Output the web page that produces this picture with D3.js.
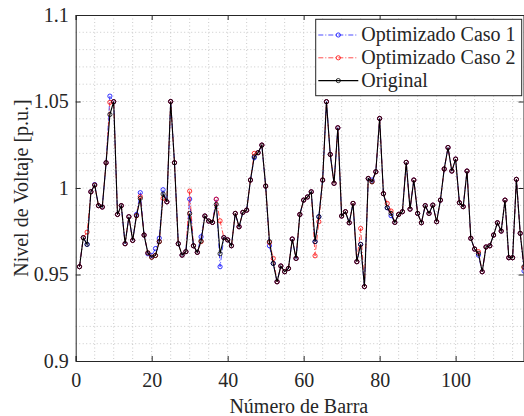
<!DOCTYPE html>
<html>
<head>
<meta charset="utf-8">
<script src="https://cdn.jsdelivr.net/npm/d3@7"></script>
<style>
  html, body { margin: 0; padding: 0; background: #fff; }
  svg { display: block; }
  text { font-family: "Liberation Serif", "Times New Roman", serif; fill: #262626; }
</style>
</head>
<body>
<script>
// ---------------- data ----------------
const seriesNames = ["Optimizado Caso 1", "Optimizado Caso 2", "Original"];
const xTicks = [0, 20, 40, 60, 80, 100];
const yTicks = [0.9, 0.95, 1, 1.05, 1.1];
const yTickLabels = ["0.9", "0.95", "1", "1.05", "1.1"];

// Original voltage per bus (1..118)
const original = [
  0.9545, 0.9713, 0.9674, 0.9978, 1.0017, 0.9898, 0.9890, 1.0146, 1.0425, 1.0499,
  0.9847, 0.9898, 0.9678, 0.9834, 0.9697, 0.9840, 0.9940, 0.9728, 0.9625, 0.9600,
  0.9610, 0.9690, 0.9965, 0.9920, 1.0500, 1.0146, 0.9678, 0.9612, 0.9632, 0.9853,
  0.9666, 0.9628, 0.9693, 0.9838, 0.9809, 0.9801, 0.9905, 0.9620, 0.9713, 0.9700,
  0.9666, 0.9853, 0.9776, 0.9859, 0.9872, 1.0046, 1.0181, 1.0204, 1.0248, 1.0011,
  0.9690, 0.9564, 0.9458, 0.9549, 0.9516, 0.9535, 0.9705, 0.9593, 0.9847, 0.9930,
  0.9948, 0.9978, 0.9690, 0.9834, 1.0046, 1.0499, 1.0194, 1.0027, 1.0348, 0.9838,
  0.9863, 0.9799, 0.9911, 0.9574, 0.9674, 0.9430, 1.0055, 1.0036, 1.0094, 1.0402,
  0.9967, 0.9886, 0.9853, 0.9801, 0.9847, 0.9863, 1.0148, 0.9878, 1.0046, 0.9853,
  0.9799, 0.9898, 0.9853, 0.9901, 0.9805, 0.9930, 1.0110, 1.0234, 1.0098, 1.0167,
  0.9915, 0.9892, 1.0098, 0.9709, 0.9647, 0.9622, 0.9516, 0.9659, 0.9666, 0.9728,
  0.9799, 0.9751, 0.9930, 0.9597, 0.9597, 1.0050, 0.9738, 0.9545
];

// Optimized case 1 (blue)
const caso1 = [
  0.9545, 0.9713, 0.9674, 0.9978, 1.0020, 0.9898, 0.9890, 1.0146, 1.0531, 1.0499,
  0.9847, 0.9898, 0.9678, 0.9834, 0.9697, 0.9847, 0.9973, 0.9728, 0.9620, 0.9610,
  0.9650, 0.9710, 0.9990, 0.9920, 1.0500, 1.0146, 0.9678, 0.9612, 0.9632, 0.9936,
  0.9666, 0.9628, 0.9718, 0.9838, 0.9809, 0.9801, 0.9935, 0.9545, 0.9713, 0.9700,
  0.9666, 0.9853, 0.9776, 0.9859, 0.9872, 1.0046, 1.0175, 1.0204, 1.0248, 1.0011,
  0.9666, 0.9564, 0.9458, 0.9549, 0.9516, 0.9535, 0.9705, 0.9593, 0.9847, 0.9930,
  0.9948, 0.9978, 0.9690, 0.9834, 1.0046, 1.0499, 1.0194, 1.0027, 1.0348, 0.9838,
  0.9863, 0.9799, 0.9911, 0.9574, 0.9674, 0.9430, 1.0055, 1.0046, 1.0094, 1.0402,
  0.9967, 0.9886, 0.9840, 0.9801, 0.9847, 0.9863, 1.0148, 0.9878, 1.0046, 0.9853,
  0.9799, 0.9898, 0.9853, 0.9901, 0.9805, 0.9930, 1.0110, 1.0234, 1.0098, 1.0167,
  0.9915, 0.9892, 1.0098, 0.9709, 0.9647, 0.9612, 0.9516, 0.9659, 0.9666, 0.9728,
  0.9799, 0.9751, 0.9930, 0.9597, 0.9597, 1.0050, 0.9738, 0.9520
];

// Optimized case 2 (red)
const caso2 = [
  0.9545, 0.9713, 0.9745, 0.9978, 1.0017, 0.9898, 0.9890, 1.0146, 1.0495, 1.0499,
  0.9847, 0.9898, 0.9678, 0.9834, 0.9697, 0.9840, 0.9950, 0.9728, 0.9625, 0.9600,
  0.9610, 0.9690, 0.9940, 0.9920, 1.0500, 1.0146, 0.9678, 0.9612, 0.9632, 0.9982,
  0.9666, 0.9628, 0.9690, 0.9838, 0.9809, 0.9801, 0.9935, 0.9810, 0.9713, 0.9700,
  0.9666, 0.9853, 0.9776, 0.9859, 0.9872, 1.0046, 1.0200, 1.0204, 1.0248, 1.0011,
  0.9685, 0.9593, 0.9458, 0.9549, 0.9516, 0.9535, 0.9705, 0.9593, 0.9847, 0.9930,
  0.9948, 0.9978, 0.9608, 0.9805, 1.0046, 1.0499, 1.0194, 1.0027, 1.0348, 0.9838,
  0.9863, 0.9799, 0.9911, 0.9574, 0.9766, 0.9430, 1.0055, 1.0036, 1.0094, 1.0402,
  0.9967, 0.9911, 0.9867, 0.9801, 0.9847, 0.9863, 1.0148, 0.9878, 1.0046, 0.9853,
  0.9799, 0.9898, 0.9853, 0.9901, 0.9805, 0.9930, 1.0110, 1.0234, 1.0098, 1.0167,
  0.9915, 0.9892, 1.0098, 0.9709, 0.9647, 0.9632, 0.9516, 0.9659, 0.9666, 0.9728,
  0.9799, 0.9751, 0.9930, 0.9597, 0.9597, 1.0050, 0.9738, 0.9540
];

// ---------------- layout ----------------
const W = 524, H = 416;
const plot = { left: 75.7, right: 524, top: 15, bottom: 361 };
const axisColor = "#262626";

const svg = d3.select("body").append("svg").attr("width", W).attr("height", H);

const x = d3.scaleLinear().domain([0, 118]).range([plot.left, plot.right]);
const y = d3.scaleLinear().domain([0.9, 1.1]).range([plot.bottom, plot.top]);

// grid (dotted) every 5 buses and every 0.01 p.u.
const gridX = d3.range(5, 118, 5);
const gridY = d3.range(1, 20).map(i => 0.9 + i * 0.01);
const grid = svg.append("g");
grid.selectAll("line.gx").data(gridX).join("line")
  .attr("x1", d => x(d)).attr("x2", d => x(d))
  .attr("y1", plot.top).attr("y2", plot.bottom)
  .attr("stroke", "#bdbdbd").attr("stroke-width", 0.8).attr("stroke-dasharray", "1,2.5");
grid.selectAll("line.gy").data(gridY).join("line")
  .attr("y1", d => y(d)).attr("y2", d => y(d))
  .attr("x1", plot.left).attr("x2", plot.right)
  .attr("stroke", "#bdbdbd").attr("stroke-width", 0.8).attr("stroke-dasharray", "1,2.5");

// series
const buses = d3.range(1, 119);
const series = [
  { name: seriesNames[0], values: caso1, color: "#0000ff", dash: "5,2,1,2", width: 0.7 },
  { name: seriesNames[1], values: caso2, color: "#ff0000", dash: "5,2,1,2", width: 0.7 },
  { name: seriesNames[2], values: original, color: "#000000", dash: null, width: 1.1 }
];
const line = d3.line().x(d => x(d[0])).y(d => y(d[1]));

const sg = svg.append("g");
series.forEach(s => {
  const pts = buses.map((b, i) => [b, s.values[i]]);
  sg.append("path").datum(pts)
    .attr("d", line).attr("fill", "none")
    .attr("stroke", s.color).attr("stroke-width", s.width)
    .attr("stroke-dasharray", s.dash);
  sg.selectAll(null).data(pts).join("circle")
    .attr("cx", d => x(d[0])).attr("cy", d => y(d[1])).attr("r", 2.1)
    .attr("fill", "none").attr("stroke", s.color).attr("stroke-width", 0.8);
});

// axes box with inward ticks
const ax = svg.append("g");
const xAxisB = d3.axisBottom(x).tickValues(xTicks).tickSize(-5).tickPadding(12).tickFormat(d3.format("d"));
const xAxisT = d3.axisTop(x).tickValues(xTicks).tickSize(-5).tickFormat("");
const yAxisL = d3.axisLeft(y).tickValues(yTicks).tickSize(-5).tickPadding(7).tickFormat((d, i) => yTickLabels[i]);
const yAxisR = d3.axisRight(y).tickValues(yTicks).tickSize(-5).tickFormat("");

function style(g) {
  g.select(".domain").attr("stroke", axisColor).attr("stroke-width", 1);
  g.selectAll(".tick line").attr("stroke", axisColor);
  g.selectAll(".tick text").attr("font-size", 20).attr("fill", axisColor)
    .attr("font-family", "Liberation Serif, Times New Roman, serif");
}
ax.append("g").attr("transform", `translate(0,${plot.bottom})`).call(xAxisB).call(style);
ax.append("g").attr("transform", `translate(0,${plot.top})`).call(xAxisT).call(style);
ax.append("g").attr("transform", `translate(${plot.left},0)`).call(yAxisL).call(style);
ax.append("g").attr("transform", `translate(${plot.right - 0.5},0)`).call(yAxisR).call(style);

// axis titles
svg.append("text").attr("x", (plot.left + plot.right) / 2 - 1).attr("y", 413)
  .attr("text-anchor", "middle").attr("font-size", 20).text("Número de Barra");
svg.append("text").attr("transform", `translate(27.5,${(plot.top + plot.bottom) / 2}) rotate(-90)`)
  .attr("text-anchor", "middle").attr("font-size", 20).text("Nivel de Voltaje [p.u.]");

// legend
const lg = svg.append("g").attr("transform", "translate(315.7,19.3)");
lg.append("rect").attr("x", 0).attr("y", 0).attr("width", 206).attr("height", 76.4)
  .attr("fill", "#fff").attr("stroke", axisColor).attr("stroke-width", 1);
series.forEach((s, i) => {
  const cy = 15.7 + i * 22.8;
  lg.append("line").attr("x1", 2.6).attr("x2", 42.6).attr("y1", cy).attr("y2", cy)
    .attr("stroke", s.color).attr("stroke-width", s.width).attr("stroke-dasharray", s.dash);
  lg.append("circle").attr("cx", 22.6).attr("cy", cy).attr("r", 2.1)
    .attr("fill", "none").attr("stroke", s.color).attr("stroke-width", 0.8);
  lg.append("text").attr("x", 45.5).attr("y", cy + 6.5).attr("font-size", 20).text(s.name);
});
</script>
</body>
</html>
